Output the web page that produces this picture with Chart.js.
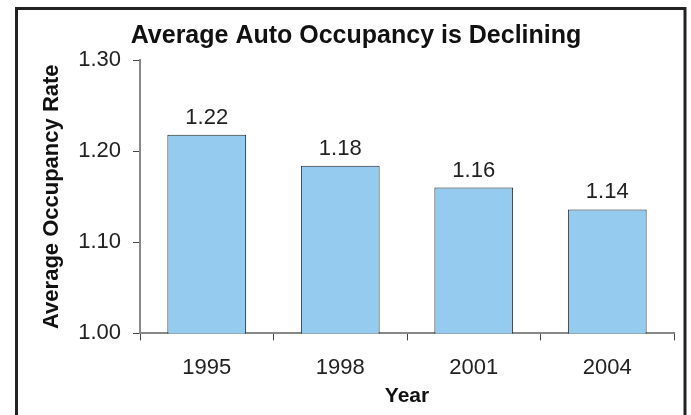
<!DOCTYPE html>
<html>
<head>
<meta charset="utf-8">
<script src="https://cdn.jsdelivr.net/npm/chart.js@4"></script>
<style>
  html, body { margin: 0; padding: 0; background: #fff; }
  #wrap { width: 691px; height: 415px; }
</style>
</head>
<body>
<div id="wrap"><canvas id="c" width="691" height="415"></canvas></div>
<script>
const categories = ["1995", "1998", "2001", "2004"];
const occupancy = [1.218, 1.184, 1.160, 1.136];
const valueLabels = ["1.22", "1.18", "1.16", "1.14"];
const yTicks = [1.00, 1.10, 1.20, 1.30];

const FONT = "'Liberation Sans', Arial, sans-serif";

const framePlugin = {
  id: 'frame',
  afterDraw(chart) {
    const ctx = chart.ctx;
    ctx.save();
    ctx.strokeStyle = '#222';
    ctx.lineWidth = 3;
    ctx.strokeRect(16.5, 8.5, 668.5, 440);
    ctx.restore();
  }
};

const labelPlugin = {
  id: 'barLabels',
  afterDatasetsDraw(chart) {
    const ctx = chart.ctx;
    const meta = chart.getDatasetMeta(0);
    ctx.save();
    ctx.font = "22px " + FONT;
    ctx.fillStyle = '#222';
    ctx.textAlign = 'center';
    ctx.textBaseline = 'alphabetic';
    meta.data.forEach((bar, i) => {
      ctx.fillText(valueLabels[i], bar.x, bar.y - 11);
    });
    ctx.restore();
  }
};

new Chart(document.getElementById('c'), {
  type: 'bar',
  data: {
    labels: categories,
    datasets: [{
      data: occupancy,
      backgroundColor: '#95CBEE',
      borderColor: '#222',
      borderWidth: 1,
      categoryPercentage: 1.0,
      barPercentage: 0.59
    }]
  },
  options: {
    responsive: false,
    animation: false,
    devicePixelRatio: 1,
    layout: { padding: { left: 38, right: 17, top: 17, bottom: 6 } },
    plugins: {
      legend: { display: false },
      tooltip: { enabled: false },
      title: {
        display: true,
        text: 'Average Auto Occupancy is Declining',
        color: '#111',
        font: { family: FONT, size: 25, weight: 'bold' },
        padding: { top: 4, bottom: 9 }
      }
    },
    scales: {
      x: {
        offset: true,
        border: { display: true, color: '#888', width: 2 },
        grid: { display: true, offset: true, drawOnChartArea: false, drawTicks: true, tickLength: 7, color: '#444', lineWidth: 1 },
        ticks: { color: '#222', font: { family: FONT, size: 22 }, padding: 14 },
        title: { display: true, text: 'Year', color: '#111', font: { family: FONT, size: 21, weight: 'bold' }, padding: { top: -11, bottom: 0 } }
      },
      y: {
        min: 1.0,
        max: 1.3,
        afterFit(scale) { scale.width = 102; },
        afterBuildTicks(scale) { scale.ticks = yTicks.map(v => ({ value: v })); },
        border: { display: true, color: '#888', width: 2 },
        grid: { display: true, drawOnChartArea: false, drawTicks: true, tickLength: 7, color: '#444', lineWidth: 1 },
        ticks: { color: '#222', font: { family: FONT, size: 22 }, padding: 12, callback: v => Number(v).toFixed(2) },
        title: { display: true, text: 'Average Occupancy Rate', color: '#111', font: { family: FONT, size: 22, weight: 'bold' }, padding: { top: 1, bottom: 0 } }
      }
    }
  },
  plugins: [framePlugin, labelPlugin]
});
</script>
</body>
</html>
